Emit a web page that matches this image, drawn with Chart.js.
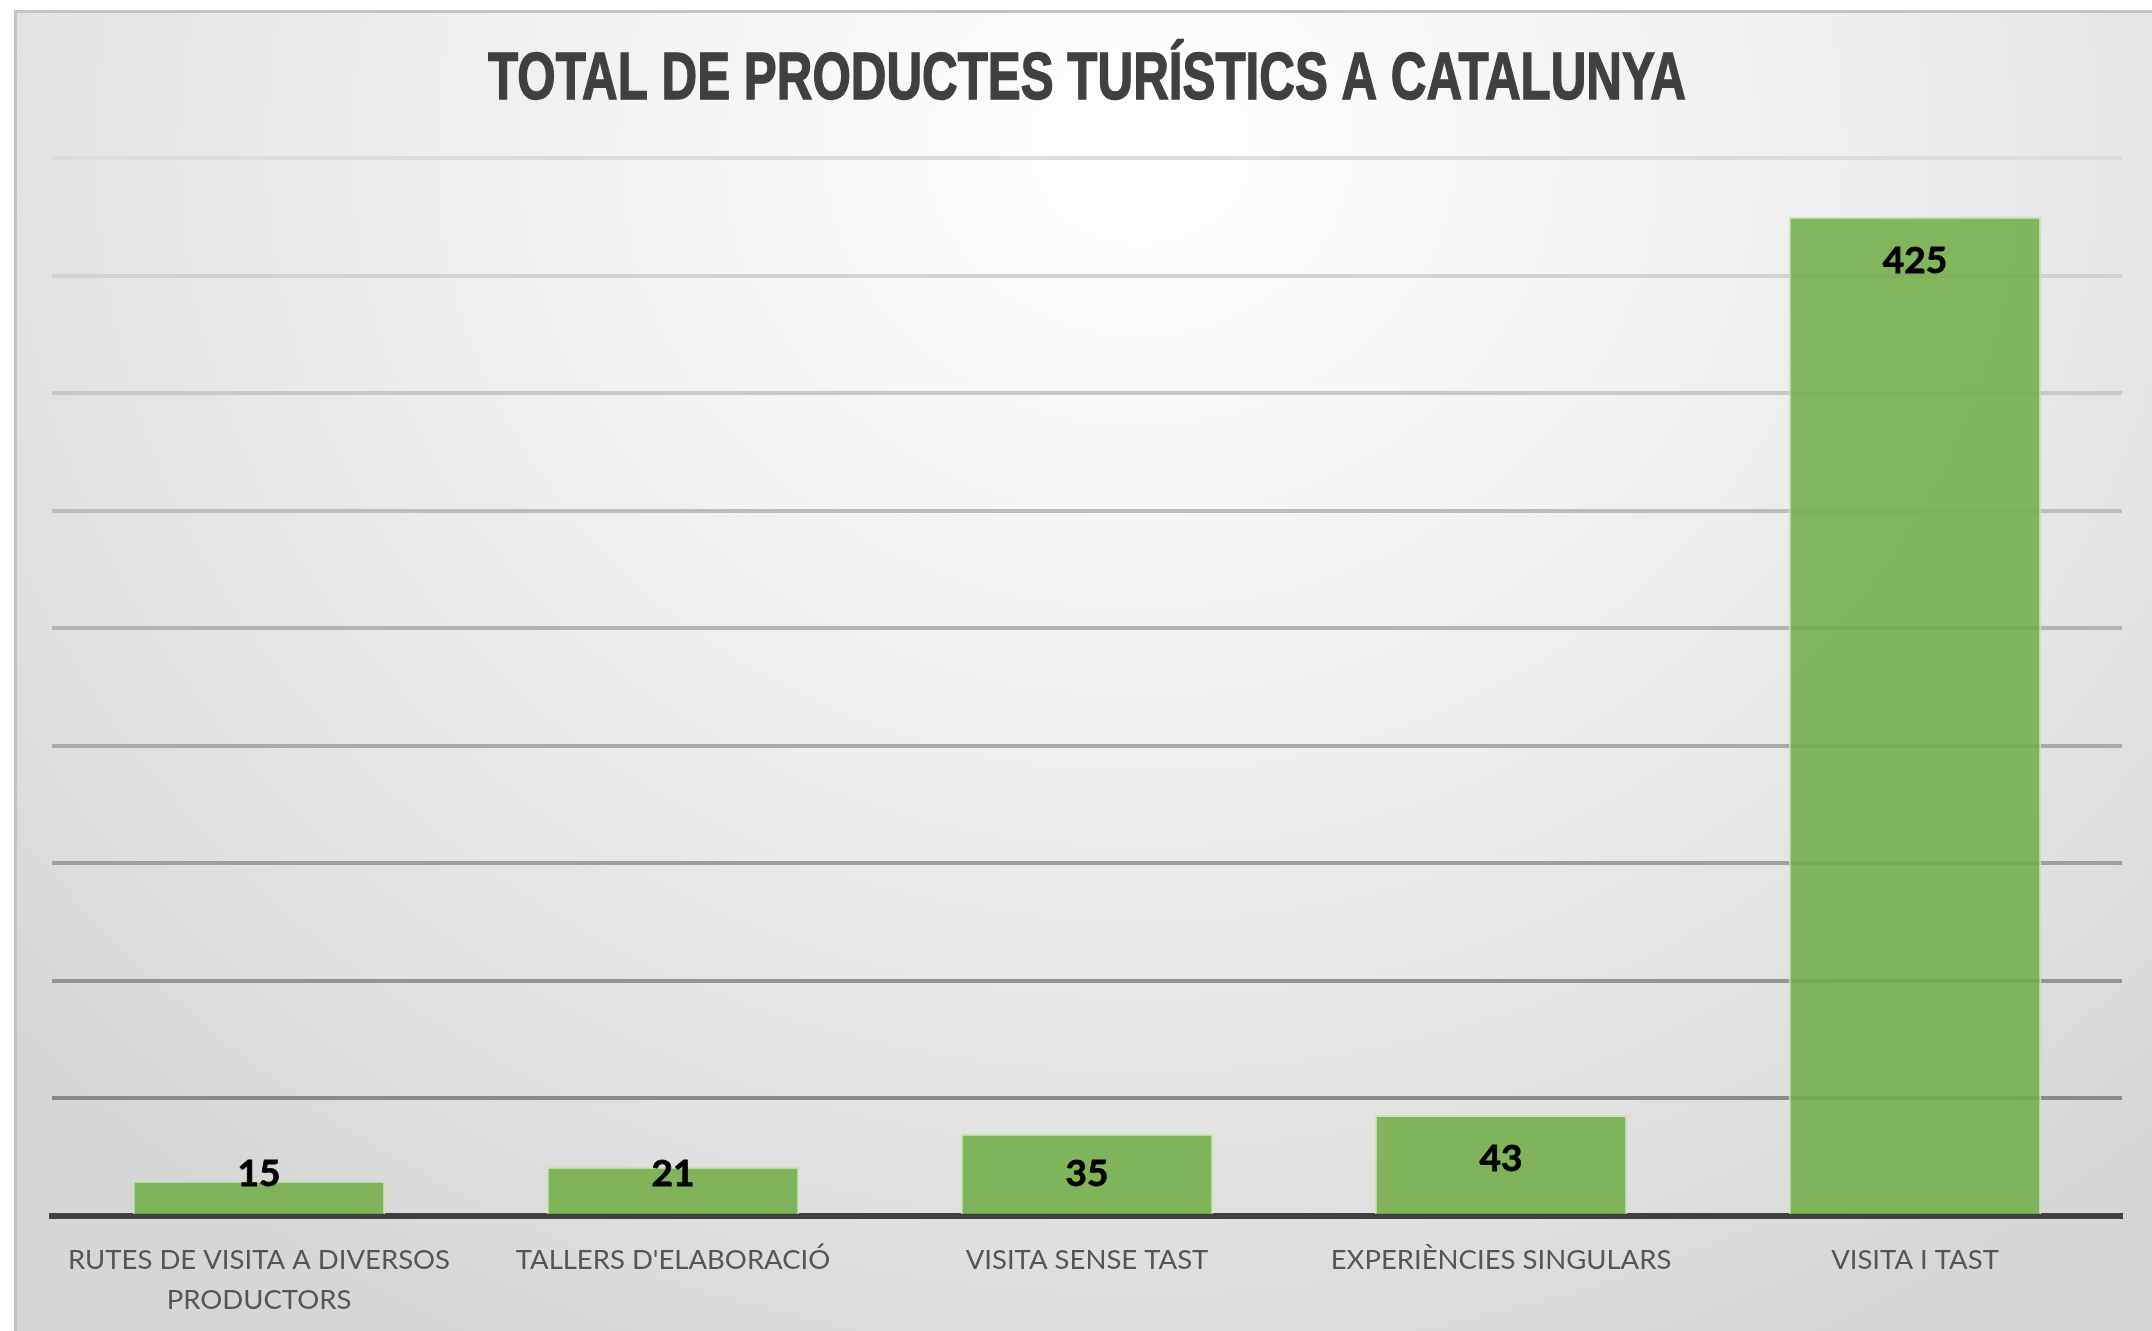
<!DOCTYPE html>
<html>
<head>
<meta charset="utf-8">
<script src="https://cdn.jsdelivr.net/npm/chart.js@4/dist/chart.umd.min.js"></script>
<style>
    html, body { margin: 0; padding: 0; width: 2152px; height: 1331px; overflow: hidden; background: #ffffff; }
    #frame {
        position: absolute; left: 14px; top: 10px; width: 2160px; height: 1340px;
        border-left: 3px solid #c4c4c4; border-top: 3px solid #c4c4c4;
        background: radial-gradient(ellipse 70% 100% at 52% 10%, #ffffff 0%, #f1f1f1 40%, #dedede 85%, #d6d6d6 100%);
    }
    #wrap { position: absolute; left: 0; top: 0; width: 2152px; height: 1331px; }
</style>
</head>
<body>
<div id="frame"></div>
<div id="wrap"><canvas id="myChart" width="2152" height="1331"></canvas></div>
<script>
const titleText = "TOTAL DE PRODUCTES TURÍSTICS A CATALUNYA";
const categories = [
    ["RUTES DE VISITA A DIVERSOS", "PRODUCTORS"],
    "TALLERS D'ELABORACIÓ",
    "VISITA SENSE TAST",
    "EXPERIÈNCIES SINGULARS",
    "VISITA I TAST"
];
const values = [15, 21, 35, 43, 425];
const yMax = 450;
const yStep = 50;

// titol condensat dibuixat a ma
const titlePlugin = {
    id: 'condensedTitle',
    afterDraw(chart) {
        const ctx = chart.ctx;
        ctx.save();
        ctx.font = 'bold 66px "Liberation Sans Narrow", "Liberation Sans", Arial, sans-serif';
        ctx.fillStyle = '#404040';
        ctx.strokeStyle = '#404040';
        ctx.lineWidth = 1.5;
        ctx.textBaseline = 'alphabetic';
        ctx.textAlign = 'left';
        const w = ctx.measureText(titleText).width;
        const targetW = 1198;
        ctx.translate(488, 99);
        ctx.scale(targetW / w, 1);
        ctx.fillText(titleText, 0, 0);
        ctx.strokeText(titleText, 0, 0);
        ctx.restore();
    }
};

// etiquetes de valor dins de la barra
const valueLabels = {
    id: 'valueLabels',
    afterDatasetsDraw(chart) {
        const ctx = chart.ctx;
        const meta = chart.getDatasetMeta(0);
        ctx.save();
        ctx.font = 'bold 37px Lato, sans-serif';
        ctx.fillStyle = '#000000';
        ctx.strokeStyle = '#000000';
        ctx.lineWidth = 0.8;
        ctx.textAlign = 'center';
        ctx.textBaseline = 'middle';
        meta.data.forEach((bar, i) => {
            const y = Math.min(bar.y + 44, chart.chartArea.bottom - 42);
            ctx.fillText(String(values[i]), bar.x, y);
            ctx.strokeText(String(values[i]), bar.x, y);
        });
        ctx.restore();
    }
};

function gridColor(value) {
    if (value === 0) return 'rgba(0,0,0,0)';
    const t = value / yMax; // 1 = dalt, clar
    const c = Math.round(128 + (220 - 128) * t);
    return `rgb(${c},${c},${c})`;
}

const config = {
    type: 'bar',
    data: {
        labels: categories,
        datasets: [{
            data: values,
            backgroundColor: 'rgba(112,173,71,0.87)',
            borderColor: 'rgba(200,228,180,0.9)',
            borderWidth: { top: 2, left: 2, right: 2, bottom: 0 },
            categoryPercentage: 1.0,
            barPercentage: 0.61
        }]
    },
    options: {
        responsive: false,
        animation: false,
        layout: { padding: { left: 52, right: 30, top: 158, bottom: 0 } },
        scales: {
            x: {
                grid: { display: false, drawTicks: false },
                border: { display: true, color: '#404040', width: 6 },
                ticks: {
                    color: '#555555',
                    padding: 24,
                    maxRotation: 0,
                    autoSkip: false,
                    font: { family: 'Lato', size: 27.5, lineHeight: 1.45 }
                },
                afterFit(scale) { scale.height = 115; }
            },
            y: {
                min: 0,
                max: yMax,
                ticks: { stepSize: yStep, display: false },
                border: { display: false },
                grid: {
                    drawTicks: false,
                    lineWidth: 4,
                    color: ctx => gridColor(ctx.tick ? ctx.tick.value : 0)
                },
                afterFit(scale) { scale.width = 0; }
            }
        },
        plugins: {
            legend: { display: false },
            tooltip: { enabled: false },
            title: { display: false }
        }
    },
    plugins: [titlePlugin, valueLabels]
};

new Chart(document.getElementById('myChart'), config);
</script>
</body>
</html>
